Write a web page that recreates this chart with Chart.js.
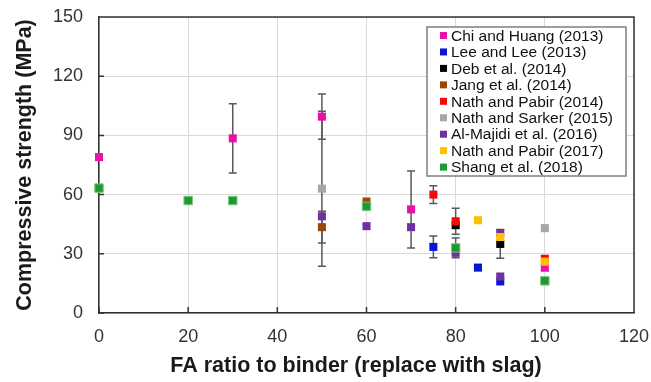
<!DOCTYPE html>
<html>
<head>
<meta charset="utf-8">
<script src="https://cdn.jsdelivr.net/npm/chart.js@4"></script>
<style>
    body { margin: 0; background: #fff; }
    #wrap { width: 651px; height: 382px; }
</style>
</head>
<body>
<div id="wrap"><canvas id="faChart" width="651" height="382"></canvas></div>
<script>
// series names and colours (legend order)
const seriesNames = ['Chi and Huang (2013)', 'Lee and Lee (2013)', 'Deb et al. (2014)', 'Jang et al. (2014)',
    'Nath and Pabir (2014)', 'Nath and Sarker (2015)', 'Al-Majidi et al. (2016)', 'Nath and Pabir (2017)', 'Shang et al. (2018)'];
const seriesColors = ['#e812a8', '#0a14d6', '#000000', '#9c4606', '#f50a0a', '#a6a6a6', '#7030a0', '#ffc000', '#1f9a32'];

// [FA ratio, strength, error] per study
const chiHuang = [[0, 79, 0], [30, 88.5, 17.5], [50, 99.5, 11.5], [70, 52.5, 19.5], [100, 23, 1.5]];
const leeLee = [[75, 33.5, 5.5], [85, 23, 0], [90, 16, 0]];
const debEtAl = [[80, 44.5, 0], [90, 35, 7.3]];
const jangEtAl = [[50, 43.5, 8], [60, 56.5, 0]];
const nathPabir14 = [[75, 60, 4.5], [80, 46.5, 6.6], [100, 27.5, 0]];
const nathSarker = [[50, 63, 39.3], [100, 43, 0]];
const alMajidi = [[50, 49, 0], [60, 44, 0], [70, 43.5, 0], [80, 30.5, 0], [90, 18.5, 0], [90, 40.5, 0]];
const nathPabir17 = [[85, 47, 0], [90, 38.5, 0], [100, 26, 0]];
const shangEtAl = [[0, 63.3, 0], [20, 57, 0], [30, 57, 0], [60, 54, 0], [80, 33, 5], [100, 16.3, 0]];

const allSeries = [chiHuang, leeLee, debEtAl, jangEtAl, nathPabir14, nathSarker, alMajidi, nathPabir17, shangEtAl];

const xTicks = [0, 20, 40, 60, 80, 100, 120];
const yTicks = [0, 30, 60, 90, 120, 150];
const xTitle = 'FA ratio to binder (replace with slag)';

const datasets = allSeries.map((s, i) => ({
    label: seriesNames[i],
    data: s.map(p => ({x: p[0], y: p[1], err: p[2]})),
    backgroundColor: seriesColors[i],
    borderColor: i === 8 ? '#7cc87c' : seriesColors[i],
    borderWidth: i === 8 ? 1 : 0,
    pointStyle: 'rect',
    pointRadius: i === 8 ? 6 : 5.7,
    pointHoverRadius: 5.7,
    showLine: false,
    clip: false,
    order: -i
}));

// error bars, drawn under the markers
const errorBars = {
    id: 'errorBars',
    beforeDatasetsDraw(chart) {
        const ctx = chart.ctx;
        const xs = chart.scales.x, ys = chart.scales.y;
        ctx.save();
        ctx.strokeStyle = '#595959';
        ctx.lineWidth = 1.5;
        chart.data.datasets.forEach(ds => {
            ds.data.forEach(p => {
                if (!p.err) return;
                const px = xs.getPixelForValue(p.x);
                const top = ys.getPixelForValue(p.y + p.err);
                const bot = ys.getPixelForValue(p.y - p.err);
                ctx.beginPath();
                ctx.moveTo(px, top); ctx.lineTo(px, bot);
                ctx.moveTo(px - 4, top); ctx.lineTo(px + 4, top);
                ctx.moveTo(px - 4, bot); ctx.lineTo(px + 4, bot);
                ctx.stroke();
            });
        });
        ctx.restore();
    }
};

// box around plot, inside tick marks, x title, boxed legend
const extras = {
    id: 'extras',
    beforeDatasetsDraw(chart) {
        const ctx = chart.ctx;
        const a = chart.chartArea;
        const xs = chart.scales.x, ys = chart.scales.y;
        ctx.save();
        ctx.strokeStyle = '#333';
        ctx.lineWidth = 1.5;
        ctx.beginPath();
        ctx.moveTo(a.left, a.top); ctx.lineTo(a.right, a.top); ctx.lineTo(a.right, a.bottom);
        yTicks.forEach(v => {
            const py = ys.getPixelForValue(v);
            ctx.moveTo(a.left, py); ctx.lineTo(a.left + 5, py);
        });
        xTicks.forEach(v => {
            const px = xs.getPixelForValue(v);
            ctx.moveTo(px, a.bottom); ctx.lineTo(px, a.bottom - 6);
        });
        ctx.stroke();
        ctx.restore();
    },
    afterDraw(chart) {
        const ctx = chart.ctx;
        ctx.save();
        ctx.fillStyle = '#1a1a1a';
        ctx.font = 'bold 21.5px "Liberation Sans", Arial, sans-serif';
        ctx.textAlign = 'center';
        ctx.textBaseline = 'middle';
        ctx.fillText(xTitle, 356, 366);

        // legend
        const lx = 427, ly = 27, lw = 199, lh = 149;
        ctx.fillStyle = '#fff';
        ctx.fillRect(lx, ly, lw, lh);
        ctx.strokeStyle = '#7f7f7f';
        ctx.lineWidth = 1.5;
        ctx.strokeRect(lx, ly, lw, lh);
        ctx.font = '15.5px "Liberation Sans", Arial, sans-serif';
        ctx.textAlign = 'left';
        chart.data.datasets.forEach((ds, i) => {
            const cy = 35.5 + i * 16.45;
            ctx.fillStyle = ds.backgroundColor;
            ctx.fillRect(440, cy - 3.5, 7, 7);
            ctx.fillStyle = '#111';
            ctx.fillText(ds.label, 451, cy + 1);
        });
        ctx.restore();
    }
};

new Chart(document.getElementById('faChart').getContext('2d'), {
    type: 'scatter',
    data: {datasets: datasets},
    options: {
        responsive: false,
        animation: false,
        layout: {padding: {top: 17, right: 17, left: 0, bottom: 0}},
        plugins: {
            legend: {display: false},
            tooltip: {enabled: false}
        },
        scales: {
            x: {
                type: 'linear',
                min: 0,
                max: 120,
                afterBuildTicks: scale => { scale.ticks = xTicks.map(v => ({value: v})); },
                afterFit: scale => {
                    scale.height = 69;
                    scale.paddingLeft = 0;
                    scale.paddingRight = 0;
                },
                grid: {color: '#d9d9d9', lineWidth: 1, drawTicks: false},
                border: {color: '#333', width: 1.5},
                ticks: {padding: 13, color: '#333', font: {family: '"Liberation Sans", Arial', size: 18}}
            },
            y: {
                type: 'linear',
                min: 0,
                max: 150,
                afterBuildTicks: scale => { scale.ticks = yTicks.map(v => ({value: v})); },
                afterFit: scale => {
                    scale.width = 99;
                    scale.paddingTop = 0;
                    scale.paddingBottom = 0;
                },
                grid: {color: '#d9d9d9', lineWidth: 1, drawTicks: false},
                border: {color: '#333', width: 1.5},
                ticks: {padding: 16, color: '#333', font: {family: '"Liberation Sans", Arial', size: 18}},
                title: {
                    display: true,
                    text: 'Compressive strength (MPa)',
                    color: '#1a1a1a',
                    padding: {top: 12, bottom: 0},
                    font: {family: '"Liberation Sans", Arial', size: 21.5, weight: 'bold'}
                }
            }
        }
    },
    plugins: [errorBars, extras]
});
</script>
</body>
</html>
